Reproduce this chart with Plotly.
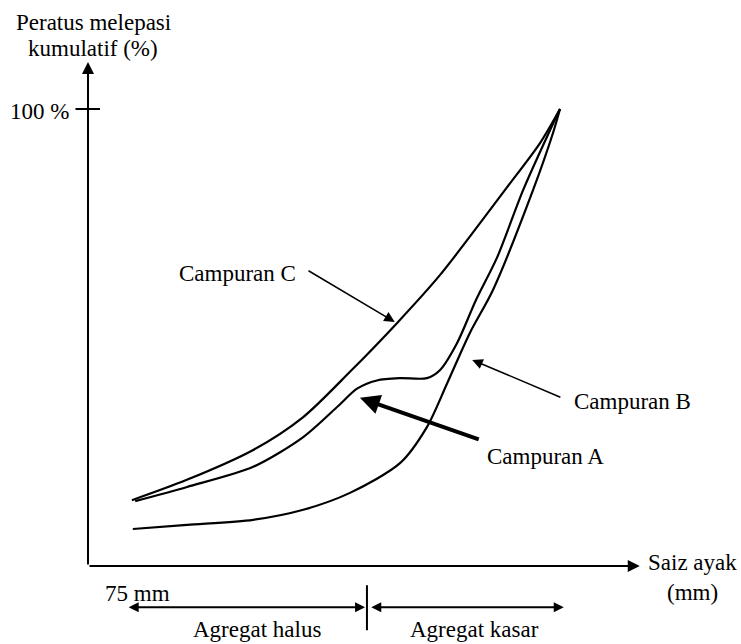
import plotly.graph_objects as go

# cumulative passing curves (x: sieve size, schematic units; y: % passing)
x_a = [10.0, 21.0, 35.0, 45.6, 53.0, 57.0, 61.2, 66.1, 71.8, 74.6, 78.2, 82.2, 86.7, 92.2, 97.9, 100]
y_a = [14.2, 17.3, 21.7, 28.2, 35.0, 38.8, 40.6, 41.1, 41.1, 42.9, 48.8, 58.2, 67.6, 82.3, 95.4, 100]

x_b = [9.5, 21.0, 35.0, 45.6, 55.5, 66.1, 71.8, 76.1, 80.9, 85.8, 94.3, 98.5, 100]
y_b = [8.1, 9.0, 10.1, 12.3, 16.0, 22.5, 30.4, 40.0, 51.0, 60.4, 82.3, 94.7, 100]

x_c = [9.3, 20.8, 35.0, 45.6, 55.5, 65.5, 74.6, 88.8, 95.8, 100]
y_c = [14.4, 18.8, 25.4, 32.6, 42.5, 53.2, 63.7, 82.9, 92.6, 100]

FONT = dict(family="'Times New Roman', 'Liberation Serif', Tinos, 'DejaVu Serif', serif",
            size=23, color="black")

fig = go.Figure()
for xs, ys in [(x_a, y_a), (x_b, y_b), (x_c, y_c)]:
    fig.add_trace(
        go.Scatter(
            x=xs,
            y=ys,
            mode="lines",
            line=dict(color="black", width=2.2, shape="spline", smoothing=0.8),
            showlegend=False,
            hoverinfo="skip",
        )
    )


def arrow(x, y, ax, ay, width=2, head=2, size=1, side="end"):
    fig.add_annotation(
        x=x, y=y, ax=ax, ay=ay, xref="x", yref="y", axref="x", ayref="y",
        text="", showarrow=True, arrowhead=head, arrowsize=size,
        arrowwidth=width, arrowcolor="black", arrowside=side,
        standoff=0, startstandoff=0,
    )


def label(x, y, text, xanchor="center"):
    fig.add_annotation(
        x=x, y=y, xref="x", yref="y", text=text, showarrow=False,
        xanchor=xanchor, yanchor="middle", font=FONT,
    )


# axes
arrow(0, 110.3, 0, 0, width=2, head=2, size=1.2)
arrow(116.9, 0, 0, 0, width=2, head=2, size=1.2)
arrow(2.54, 100, -2.97, 100, width=2, head=0)
label(-3.6, 99.5, "100 %", xanchor="right")
label(1.06, 119.0, "Peratus melepasi")
label(1.06, 113.3, "kumulatif (%)")
label(128.0, 0.66, "Saiz ayak")
label(128.0, -5.9, "(mm)")

# aggregate ranges below the axis
label(10.4, -6.1, "75 mm")
arrow(58.7, -9.0, 8.3, -9.0, width=2, head=2, size=1, side="end+start")
arrow(100.8, -9.0, 59.7, -9.0, width=2, head=2, size=1, side="end+start")
arrow(59.1, -4.2, 59.1, -14.4, width=2, head=0)
label(35.8, -14.0, "Agregat halus")
label(81.8, -14.0, "Agregat kasar")

# curve labels
label(31.6, 64.1, "Campuran C")
arrow(65.0, 53.4, 46.4, 64.8, width=1.5, head=2, size=1.4)
label(115.3, 35.9, "Campuran B")
arrow(81.4, 45.1, 100.4, 36.8, width=1.5, head=2, size=1.4)
label(97.0, 23.9, "Campuran A")
arrow(57.6, 36.8, 83.1, 27.6, width=4, head=2, size=1)

fig.update_layout(
    width=741,
    height=644,
    margin=dict(l=0, r=0, t=0, b=0),
    paper_bgcolor="white",
    plot_bgcolor="white",
    xaxis=dict(range=[-18.644, 138.347], visible=False, fixedrange=True),
    yaxis=dict(range=[-17.068, 123.851], visible=False, fixedrange=True),
)

fig.write_html(
    "out.html",
    config={"displayModeBar": False},
    post_script="document.body.style.margin='0';",
)
